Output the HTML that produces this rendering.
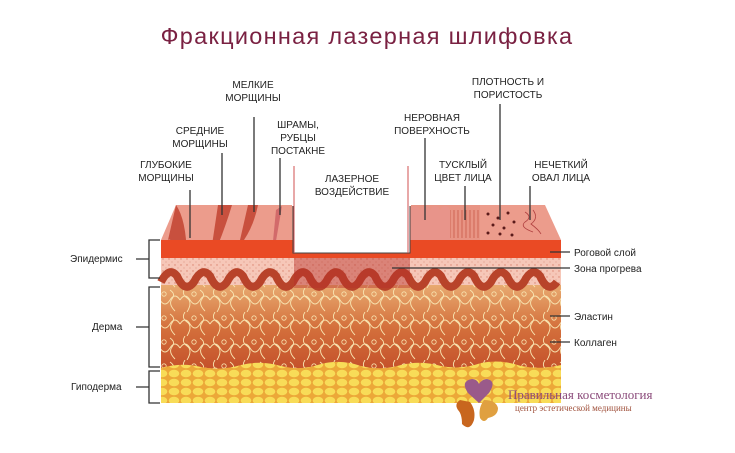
<!DOCTYPE html>
<html><head><meta charset="utf-8"><style>
html,body{margin:0;padding:0;background:#fff;}
svg{display:block;font-family:"Liberation Sans",sans-serif;}
.t{font-size:10px;fill:#222;text-anchor:middle;}
.l{font-size:10px;fill:#222;}
.ln{stroke:#333;stroke-width:1.3;fill:none;}
</style></head><body>
<svg width="735" height="453" viewBox="0 0 735 453">
<defs>
<pattern id="dots" width="6" height="6" patternUnits="userSpaceOnUse"><rect width="6" height="6" fill="#f6c7b8"/><circle cx="1" cy="1" r="0.7" fill="#d9826e"/><circle cx="4" cy="4" r="0.6" fill="#e09a88"/></pattern>
<pattern id="fib" width="30" height="24" patternUnits="userSpaceOnUse"><path d="M0 12 q5 -8 10 0 t10 0 t10 0 M5 0 q-4 6 2 10 q6 4 0 14 M20 2 q6 4 2 9 q-4 5 3 12" stroke="#f8e4b0" stroke-width="0.9" fill="none"/><circle cx="14" cy="6" r="2.2" stroke="#f8e4b0" stroke-width="0.8" fill="none"/></pattern>
<pattern id="fat" width="12" height="9" patternUnits="userSpaceOnUse"><rect width="12" height="9" fill="#eca838"/><ellipse cx="6" cy="4.5" rx="5.3" ry="3.8" fill="#f8dc58"/></pattern>
<linearGradient id="derm" x1="0" y1="0" x2="0" y2="1"><stop offset="0" stop-color="#e8aa70"/><stop offset="0.5" stop-color="#d4703c"/><stop offset="1" stop-color="#c4502a"/></linearGradient>
</defs>
<text x="367" y="44" font-size="23.5" fill="#7a2142" text-anchor="middle" letter-spacing="1.3">Фракционная лазерная шлифовка</text>

<polygon points="176,205 545,205 561,240 161,240" fill="#ec9c8c"/>
<polygon points="410,205 480,205 480,240 410,240" fill="#e89484"/>
<g stroke="#c85a4a" stroke-width="0.8"><path d="M450 210 v28 M454 210 v28 M458 210 v28 M462 210 v28 M466 210 v28 M470 210 v28 M474 210 v28 M478 210 v28"/></g>
<g fill="#5a1a1a"><circle cx="488" cy="214" r="1.5"/><circle cx="498" cy="218" r="1.5"/><circle cx="508" cy="213" r="1.5"/><circle cx="493" cy="225" r="1.5"/><circle cx="504" cy="228" r="1.5"/><circle cx="514" cy="222" r="1.5"/><circle cx="500" cy="234" r="1.5"/><circle cx="512" cy="235" r="1.5"/><circle cx="488" cy="233" r="1.5"/></g>
<path d="M525 212 q8 5 0 10 q-6 5 8 10 M533 210 q6 8 -2 14 q8 6 10 10" stroke="#b04040" stroke-width="0.8" fill="none"/>
<path d="M176 205 q14 20 10 80 l-8 0 q-3 -50 -10 -45 z" fill="#c8503e"/>
<path d="M218 205 l14 0 q-6 20 -14 40 l-6 0 z" fill="#c8503e"/>
<path d="M248 205 l10 0 q-4 20 -14 35 l-4 0 z" fill="#c8503e"/>
<path d="M276 210 l6 -4 l-6 35 l-3 0 z" fill="#d26a6a"/>
<path d="M410 240 v-30 q6 -8 10 0 q6 -8 10 0 q6 -8 10 0 q6 -8 10 0 v30 z" fill="#e8948a"/>

<rect x="161" y="240" width="400" height="18" fill="#ea4a24"/>
<rect x="161" y="258" width="400" height="30" fill="url(#dots)"/>
<rect x="161" y="285" width="400" height="85" fill="url(#derm)"/>
<rect x="161" y="285" width="400" height="85" fill="url(#fib)"/>
<path d="M161 282 q8 -16 16 -6 q8 18 17 6 q8 -16 16 -6 q8 18 17 6 q8 -16 16 -6 q8 18 17 6 q8 -16 16 -6 q8 18 17 6 q8 -16 16 -6 q8 18 17 6 q8 -16 16 -6 q8 18 17 6 q8 -16 16 -6 q8 18 17 6 q8 -16 16 -6 q8 18 17 6 q8 -16 16 -6 q8 18 17 6 q8 -16 16 -6 q8 18 17 6 q8 -16 16 -6 q8 18 17 6 q8 -16 16 -6 q8 18 17 6" stroke="#b8432a" stroke-width="8" fill="none"/>
<path d="M161 368 q20 -6 40 -1 q20 4 40 -2 q20 -5 40 1 q20 5 40 -2 q20 -5 40 2 q20 5 40 -1 q20 -5 40 1 q20 4 40 -3 q20 -4 40 3 q20 4 40 -1 V403 H161 z" fill="url(#fat)"/>
<rect x="294" y="258" width="116" height="30" fill="#b8302a" opacity="0.45"/>
<rect x="293" y="205" width="117" height="48" fill="#fff" stroke="#444" stroke-width="1"/>
<rect x="292" y="166" width="119" height="40" fill="#fff"/>
<line x1="294" y1="166" x2="294" y2="253" stroke="#d05050" stroke-width="1"/>
<line x1="408" y1="166" x2="408" y2="253" stroke="#d05050" stroke-width="1"/>

<g class="t">
<text x="166" y="168">ГЛУБОКИЕ</text><text x="166" y="181">МОРЩИНЫ</text>
<text x="200" y="134">СРЕДНИЕ</text><text x="200" y="147">МОРЩИНЫ</text>
<text x="253" y="88">МЕЛКИЕ</text><text x="253" y="101">МОРЩИНЫ</text>
<text x="298" y="128">ШРАМЫ,</text><text x="298" y="141">РУБЦЫ</text><text x="298" y="154">ПОСТАКНЕ</text>
<text x="352" y="182">ЛАЗЕРНОЕ</text><text x="352" y="195">ВОЗДЕЙСТВИЕ</text>
<text x="432" y="121">НЕРОВНАЯ</text><text x="432" y="134">ПОВЕРХНОСТЬ</text>
<text x="463" y="168">ТУСКЛЫЙ</text><text x="463" y="181">ЦВЕТ ЛИЦА</text>
<text x="508" y="85">ПЛОТНОСТЬ И</text><text x="508" y="98">ПОРИСТОСТЬ</text>
<text x="561" y="168">НЕЧЕТКИЙ</text><text x="561" y="181">ОВАЛ ЛИЦА</text>
</g>
<g class="ln">
<path d="M190 190 V238"/><path d="M222 153 V215"/><path d="M254 117 V212"/><path d="M280 158 V215"/>
<path d="M425 138 V220"/><path d="M465 186 V220"/><path d="M500 104 V220"/><path d="M530 186 V220"/>
<path d="M160 240 H149 V278 H160 M149 259 H136"/>
<path d="M160 287 H149 V367 H160 M149 327 H136"/>
<path d="M160 371 H149 V403 H160 M149 387 H136"/>
<path d="M550 252 H570"/><path d="M392 268 H570"/><path d="M550 316 H570"/><path d="M550 342 H570"/>
</g>
<g class="l">
<text x="70" y="262">Эпидермис</text><text x="92" y="330">Дерма</text><text x="71" y="390">Гиподерма</text>
<text x="574" y="256">Роговой слой</text><text x="574" y="272">Зона прогрева</text>
<text x="574" y="320">Эластин</text><text x="574" y="346">Коллаген</text>
</g>
<path d="M468 393 q-8 -12 4 -14 q5 0 7 5 q3 -5 8 -5 q10 2 2 14 l-10 10 z" fill="#9a5a8a"/>
<path d="M460 400 q-6 4 -2 10 q4 4 4 14 q8 8 12 -4 q2 -10 -4 -18 z" fill="#c8661e"/>
<path d="M484 400 q12 0 14 8 q0 8 -10 10 q-4 6 -8 0 q-2 -10 4 -18 z" fill="#e0a040"/>
<text x="508" y="399" font-family="Liberation Serif,serif" font-size="13" fill="#8a4a7a">Правильная косметология</text>
<text x="515" y="411" font-family="Liberation Serif,serif" font-size="9" fill="#a0523d">центр эстетической медицины</text>
</svg>
</body></html>
